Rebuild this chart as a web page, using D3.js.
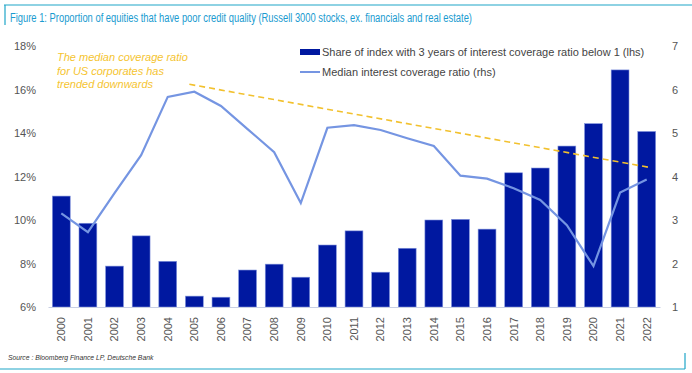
<!DOCTYPE html>
<html>
<head>
<meta charset="utf-8">
<script src="https://cdn.jsdelivr.net/npm/d3@7"></script>
<style>
  body { margin: 0; background: #fff; }
  svg { display: block; font-family: "Liberation Sans", Arial, sans-serif; }
</style>
</head>
<body>
<div id="chart-area"></div>
<script>
var years = ["2000","2001","2002","2003","2004","2005","2006","2007","2008","2009","2010",
             "2011","2012","2013","2014","2015","2016","2017","2018","2019","2020","2021","2022"];
// share of index with 3 yrs of coverage ratio below 1 (%)
var shareBelow1 = [11.1, 9.85, 7.88, 9.27, 8.1, 6.5, 6.45, 7.7, 7.97, 7.37, 8.85,
                   9.5, 7.6, 8.7, 10.0, 10.03, 9.58, 12.17, 12.39, 13.4, 14.43, 16.9, 14.07];
// median interest coverage ratio (rhs)
var medianCoverage = [3.15, 2.72, 3.62, 4.49, 5.83, 5.95, 5.62, 5.09, 4.56, 3.39, 5.12,
                      5.18, 5.07, 4.88, 4.7, 4.02, 3.95, 3.73, 3.46, 2.88, 1.94, 3.63, 3.93];
var trendYears = ["2005", "2022"];
var trendValues = [6.12, 4.2];
var leftTicks = [6, 8, 10, 12, 14, 16, 18];
var rightTicks = [1, 2, 3, 4, 5, 6, 7];

var width = 692, height = 373;
var margin = { left: 48, right: 32, top: 46, bottom: 66 };
var plotW = 660 - margin.left, plotH = 307 - margin.top;

var svg = d3.select("#chart-area")
  .append("svg")
    .attr("width", width)
    .attr("height", height);

// frame lines
var teal = "#1ea5c8";
svg.append("line").attr("x1", 4).attr("x2", 692).attr("y1", 5).attr("y2", 5)
  .attr("stroke", teal).attr("stroke-width", 1.2);
svg.append("line").attr("x1", 5).attr("x2", 5).attr("y1", 5).attr("y2", 25)
  .attr("stroke", teal).attr("stroke-width", 1.2);
svg.append("line").attr("x1", 0).attr("x2", 685).attr("y1", 369).attr("y2", 369)
  .attr("stroke", teal).attr("stroke-width", 1.2);
svg.append("line").attr("x1", 685).attr("x2", 685).attr("y1", 353).attr("y2", 369)
  .attr("stroke", teal).attr("stroke-width", 1.2);

svg.append("text")
  .attr("x", 10).attr("y", 22)
  .attr("font-family", "'Liberation Sans Narrow', 'Arial Narrow', 'Liberation Sans', sans-serif")
  .attr("font-size", "12.5px")
  .attr("fill", "#1a9bd0")
  .attr("textLength", 462)
  .attr("lengthAdjust", "spacingAndGlyphs")
  .text("Figure 1: Proportion of equities that have poor credit quality (Russell 3000 stocks, ex. financials and real estate)");

svg.append("text")
  .attr("x", 8).attr("y", 360)
  .attr("font-size", "6.8px")
  .attr("font-style", "italic")
  .attr("fill", "#333")
  .text("Source : Bloomberg Finance LP, Deutsche Bank");

var g = svg.append("g")
  .attr("transform", "translate(" + margin.left + ", " + margin.top + ")");

var x = d3.scaleBand()
  .domain(years)
  .range([0, plotW])
  .paddingInner(0.33)
  .paddingOuter(0.165);

var y = d3.scaleLinear().domain([6, 18]).range([plotH, 0]);
var y2 = d3.scaleLinear().domain([1, 7]).range([plotH, 0]);

// bars
g.selectAll("rect.bar")
  .data(shareBelow1)
  .enter()
  .append("rect")
    .attr("class", "bar")
    .attr("x", function(d, i) { return x(years[i]); })
    .attr("y", function(d) { return y(d); })
    .attr("width", x.bandwidth())
    .attr("height", function(d) { return plotH - y(d); })
    .attr("fill", "#0018a0")
    .attr("stroke", "#7f92dc")
    .attr("stroke-width", 0.6);

// x axis
var xAxisCall = d3.axisBottom(x).tickSize(0).tickPadding(0);
var xAxis = g.append("g")
  .attr("transform", "translate(0, " + plotH + ")")
  .call(xAxisCall);
xAxis.select(".domain").attr("stroke", "#c9d0e4").attr("stroke-width", 1.2);
xAxis.selectAll("text")
  .attr("transform", "rotate(-90)")
  .attr("x", -10)
  .attr("y", 0)
  .attr("dy", "0.35em")
  .attr("text-anchor", "end")
  .attr("font-size", "11px")
  .attr("fill", "#555");

// left axis
var yAxis = g.append("g")
  .call(d3.axisLeft(y).tickValues(leftTicks).tickSize(0).tickPadding(12)
    .tickFormat(function(d) { return d + "%"; }));
yAxis.select(".domain").remove();
yAxis.selectAll("text").attr("font-size", "11px").attr("fill", "#555");

// right axis
var y2Axis = g.append("g")
  .attr("transform", "translate(" + (plotW + 12) + ", 0)")
  .call(d3.axisRight(y2).tickValues(rightTicks).tickSize(0).tickPadding(0)
    .tickFormat(d3.format("d")));
y2Axis.select(".domain").remove();
y2Axis.selectAll("text").attr("font-size", "11px").attr("fill", "#555");

// median line
var line = d3.line()
  .x(function(d, i) { return x(years[i]) + x.bandwidth() / 2; })
  .y(function(d) { return y2(d); });

g.append("path")
  .datum(medianCoverage)
  .attr("d", line)
  .attr("fill", "none")
  .attr("stroke", "#7595e2")
  .attr("stroke-width", 2.2);

// trend
var trend = d3.line()
  .x(function(d, i) { return x(trendYears[i]) + x.bandwidth() / 2 + (i === 0 ? -5 : 5); })
  .y(function(d) { return y2(d); });

g.append("path")
  .datum(trendValues)
  .attr("d", trend)
  .attr("fill", "none")
  .attr("stroke", "#f2c12e")
  .attr("stroke-width", 1.6)
  .attr("stroke-dasharray", "6,4");

// annotation
var note = ["The median coverage ratio", "for US corporates has", "trended downwards"];
svg.selectAll("text.note")
  .data(note)
  .enter()
  .append("text")
    .attr("class", "note")
    .attr("x", 57)
    .attr("y", function(d, i) { return 61 + i * 13.5; })
    .attr("font-size", "11px")
    .attr("font-style", "italic")
    .attr("fill", "#f5c430")
    .text(function(d) { return d; });

// legend
var legend = svg.append("g");
legend.append("rect").attr("x", 300).attr("y", 49).attr("width", 20).attr("height", 6)
  .attr("fill", "#0018a0");
legend.append("text").attr("x", 322).attr("y", 56).attr("font-size", "11px").attr("fill", "#444")
  .text("Share of index with 3 years of interest coverage ratio below 1 (lhs)");
legend.append("line").attr("x1", 300).attr("x2", 320).attr("y1", 72).attr("y2", 72)
  .attr("stroke", "#7595e2").attr("stroke-width", 2);
legend.append("text").attr("x", 322).attr("y", 76).attr("font-size", "11px").attr("fill", "#444")
  .text("Median interest coverage ratio (rhs)");
</script>
</body>
</html>
